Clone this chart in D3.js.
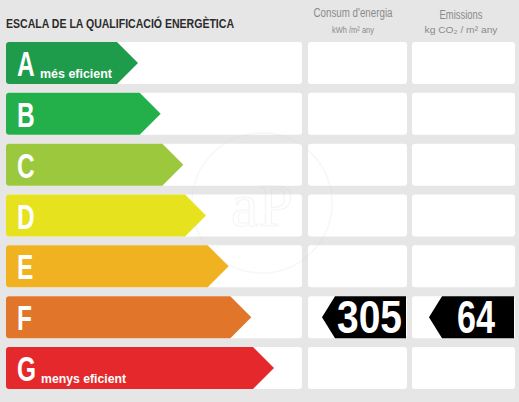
<!DOCTYPE html>
<html>
<head>
<meta charset="utf-8">
<script src="https://cdn.jsdelivr.net/npm/d3@7"></script>
<style>
  html, body { margin: 0; padding: 0; background: #e6e6e6; }
  svg { display: block; }
</style>
</head>
<body>
<div id="chart"></div>
<script>
// ---- data ----
const categories = ["A", "B", "C", "D", "E", "F", "G"];
const subLabels = ["més eficient", "", "", "", "", "", "menys eficient"];
const classColors = ["#1f9b4c", "#23b04b", "#9bc83c", "#e6e31e", "#f0b221", "#e1762a", "#e4282b"];
const consumValue = { category: "F", value: 305 };
const emissionValue = { category: "F", value: 64 };
const titleText = "ESCALA DE LA QUALIFICACIÓ ENERGÈTICA";
const headerConsum = ["Consum d'energia", "kWh /m² any"];
const headerEmis = ["Emissions", "kg CO₂  / m² any"];

// ---- layout ----
const W = 519, H = 402;
const svg = d3.select("#chart").append("svg").attr("width", W).attr("height", H);
svg.append("rect").attr("width", W).attr("height", H).attr("fill", "#e6e6e6");

const y = d3.scaleBand().domain(categories).range([42, 389]).paddingInner(0.174).paddingOuter(0);
const tipX = d3.scaleLinear().domain([0, categories.length - 1]).range([138, 274]);
const cols = [
  { x0: 6, x1: 302 },
  { x0: 308, x1: 407 },
  { x0: 412, x1: 515 }
];
const condensed = "'Liberation Sans Narrow', 'Liberation Sans', Arial, sans-serif";

// white cells
categories.forEach(c => {
  cols.forEach(col => {
    svg.append("rect")
      .attr("x", col.x0).attr("y", y(c))
      .attr("width", col.x1 - col.x0).attr("height", y.bandwidth())
      .attr("rx", 3).attr("fill", "#ffffff");
  });
});

// watermark
const wm = svg.append("g").attr("opacity", 0.2);
wm.append("circle").attr("cx", 262).attr("cy", 203).attr("r", 70)
  .attr("fill", "none").attr("stroke", "#d8d8d8").attr("stroke-width", 1.5);
wm.append("text").attr("x", 262).attr("y", 226).attr("text-anchor", "middle")
  .attr("font-family", "Liberation Serif, serif").attr("font-size", 62)
  .attr("fill", "none").attr("stroke", "#d0d0d0").attr("stroke-width", 1.2).text("aP");

// arrows
const x0 = 6;
const h = y.bandwidth();
const half = h / 2;
categories.forEach((c, i) => {
  const top = y(c), tip = tipX(i), r = 3;
  const p = d3.path();
  p.moveTo(x0 + r, top);
  p.lineTo(tip - half, top);
  p.lineTo(tip, top + half);
  p.lineTo(tip - half, top + h);
  p.lineTo(x0 + r, top + h);
  p.quadraticCurveTo(x0, top + h, x0, top + h - r);
  p.lineTo(x0, top + r);
  p.quadraticCurveTo(x0, top, x0 + r, top);
  p.closePath();
  svg.append("path").attr("d", p.toString()).attr("fill", classColors[i]);

  svg.append("text")
    .attr("transform", `translate(17,${top + 34}) scale(0.7,1)`)
    .attr("font-family", "'Liberation Sans', Arial, sans-serif")
    .attr("font-weight", "bold").attr("font-size", 35)
    .attr("fill", "#ffffff").text(c);

  if (subLabels[i]) {
    svg.append("text")
      .attr("x", i === 0 ? 40 : 41).attr("y", top + 36)
      .attr("font-family", "'Liberation Sans', Arial, sans-serif")
      .attr("font-weight", "bold").attr("font-size", 13)
      .attr("textLength", i === 0 ? 72 : 85).attr("lengthAdjust", "spacingAndGlyphs")
      .attr("fill", "#ffffff").text(subLabels[i]);
  }
});

// title
svg.append("text").attr("x", 6).attr("y", 28)
  .attr("font-family", "'Liberation Sans', Arial, sans-serif")
  .attr("font-weight", "bold").attr("font-size", 13.5)
  .attr("textLength", 228).attr("lengthAdjust", "spacingAndGlyphs")
  .attr("fill", "#2b2b2b").text(titleText);

// headers
function header(lines, cx, w1, w2, yy1) {
  svg.append("text").attr("x", cx).attr("y", yy1).attr("text-anchor", "middle")
    .attr("font-family", "'Liberation Sans Narrow', 'Liberation Sans', Arial, sans-serif")
    .attr("font-size", 12).attr("textLength", w1).attr("lengthAdjust", "spacingAndGlyphs")
    .attr("fill", "#8a8a8a").text(lines[0]);
  svg.append("text").attr("x", cx).attr("y", 33).attr("text-anchor", "middle")
    .attr("font-family", "'Liberation Sans Narrow', 'Liberation Sans', Arial, sans-serif")
    .attr("font-size", 9).attr("textLength", w2).attr("lengthAdjust", "spacingAndGlyphs")
    .attr("fill", "#8a8a8a").text(lines[1]);
}
header(headerConsum, 353, 79, 42, 17);
header(headerEmis, 461, 43, 73, 19);

// value badges
function badge(col, item, tipOffset, textX, textW) {
  const top = y(item.category);
  const left = col.x0 + tipOffset, right = col.x1 - 1;
  const slant = 13;
  const p = d3.path();
  p.moveTo(left + slant, top);
  p.lineTo(right, top);
  p.lineTo(right, top + h);
  p.lineTo(left + slant, top + h);
  p.lineTo(left, top + half);
  p.closePath();
  svg.append("path").attr("d", p.toString()).attr("fill", "#000000");
  svg.append("text").attr("x", textX).attr("y", top + 37)
    .attr("font-family", condensed).attr("font-weight", "bold").attr("font-size", 46)
    .attr("textLength", textW).attr("lengthAdjust", "spacingAndGlyphs")
    .attr("fill", "#ffffff").text(String(item.value));
}
badge(cols[1], consumValue, 14, 337, 65);
badge(cols[2], emissionValue, 17, 457, 38);
</script>
</body>
</html>
